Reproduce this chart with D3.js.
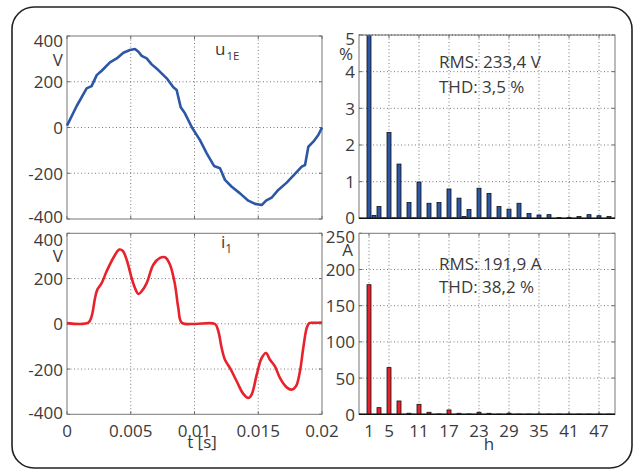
<!DOCTYPE html>
<html><head><meta charset="utf-8">
<script src="https://cdn.jsdelivr.net/npm/d3@7"></script>
<style>
body{margin:0;background:#fff;}
text{font-family:"Open Sans",sans-serif;font-size:17px;fill:#3a3a3a;font-weight:400;}
</style></head>
<body><svg id="c" width="636" height="470"></svg>
<script>
// ---------- DATA ----------
const tVolt = [0,0.00076,0.00154,0.00193,0.00233,0.00272,0.00337,0.0039,0.00442,0.00494,0.00533,0.0056,0.00586,0.00625,0.00664,0.00716,0.00782,0.00834,0.0086,0.00892,0.00925,0.0098,0.01043,0.01096,0.01153,0.012,0.01239,0.01292,0.01357,0.01422,0.01475,0.01527,0.01561,0.01605,0.01657,0.01723,0.01788,0.01841,0.01867,0.01893,0.01932,0.01971,0.02];
const uVolt = [8,94,171,181,229,248,285,302,327,339,343,331,313,302,276,251,215,176,164,88,62,0,-55,-113,-168,-178,-229,-259,-288,-320,-334,-339,-320,-307,-273,-241,-203,-171,-164,-84,-62,-33,0];
const tCur = [0,0.00167,0.00193,0.0022,0.00238,0.00272,0.00311,0.00363,0.0041,0.00437,0.00468,0.00507,0.00533,0.0056,0.00586,0.00625,0.00677,0.00729,0.00769,0.00808,0.00847,0.00873,0.009,0.01,0.01161,0.01187,0.01213,0.01239,0.01278,0.01331,0.01383,0.01422,0.01448,0.01488,0.01527,0.01561,0.01592,0.01631,0.01671,0.01723,0.01762,0.01796,0.01827,0.01853,0.0188,0.019,0.01935,0.02];
const iCur = [3,5,33,114,151,180,232,291,328,323,283,202,158,132,144,180,261,291,294,261,173,70,5,-1,-1,-33,-107,-159,-195,-254,-310,-328,-313,-225,-151,-129,-159,-188,-240,-281,-291,-276,-210,-107,-19,3,4,6];
const harmonics = d3.range(1, 51);
const voltPct = [100,0.08,0.32,0.01,2.34,0.01,1.48,0.01,0.43,0.01,0.99,0.01,0.41,0.01,0.43,0.01,0.80,0.01,0.55,0.05,0.24,0.01,0.82,0.01,0.68,0.01,0.32,0.01,0.25,0.01,0.41,0.01,0.13,0,0.09,0,0.10,0,0.02,0,0.02,0,0.05,0,0.10,0,0.07,0,0.05,0];
const curAmp = [179,0,9.2,0,64.5,0,18.4,0,1.5,0,13.8,0,2.8,0,0.5,0,6,0,1.4,0,0.5,0,2.8,0,1.4,0,0.3,0,1.5,0,0.3,0,0.3,0,0.3,0,0.3,0,0.3,0,0.3,0,0.3,0,0.3,0,0.3,0,0.3,0];
const waveYTicks = [-400,-200,0,200,400];
const timeTicks = [0,0.005,0.01,0.015,0.02];
const timeTickLabels = ["0","0.005","0.01","0.015","0.02"];
const hTicks = [1,5,11,17,23,29,35,41,47];
const pctTicks = [0,1,2,3,4,5];
const ampTicks = [0,50,100,150,200,250];

const svg = d3.select("#c");
const BLUE = "#2c56a6", RED = "#e8222c";

// frame
svg.append("rect").attr("x",12).attr("y",7).attr("width",620).attr("height",461)
  .attr("rx",22).attr("fill","none").attr("stroke","#222").attr("stroke-width",1.6);

function panel(o){
  const g = svg.append("g");
  const x = o.x, y = o.y;
  const [x0,x1] = x.range(), [y1,y0] = y.range();
  o.xt.forEach(v=>{ const px=x(v); if(px>x0+1&&px<x1-1) g.append("line").attr("x1",px).attr("x2",px).attr("y1",y0).attr("y2",y1)
      .attr("stroke","#555").attr("stroke-width",0.8).attr("stroke-dasharray","1,2.5");});
  o.yt.forEach(v=>{ const py=y(v); if(py>y0+1&&py<y1-1) g.append("line").attr("x1",x0).attr("x2",x1).attr("y1",py).attr("y2",py)
      .attr("stroke","#555").attr("stroke-width",0.8).attr("stroke-dasharray","1,2.5");});
  if(o.topGrid) g.append("line").attr("x1",x0).attr("x2",x1).attr("y1",y0).attr("y2",y0)
      .attr("stroke","#222").attr("stroke-width",1).attr("stroke-dasharray","1.2,2");
  const tl=3;
  o.xt.forEach(v=>{const px=x(v);
    g.append("line").attr("x1",px).attr("x2",px).attr("y1",y1).attr("y2",y1-tl).attr("stroke","#666");
    g.append("line").attr("x1",px).attr("x2",px).attr("y1",y0).attr("y2",y0+tl).attr("stroke","#666");});
  o.yt.forEach(v=>{const py=y(v);
    g.append("line").attr("x1",x0).attr("x2",x0+tl).attr("y1",py).attr("y2",py).attr("stroke","#666");
    g.append("line").attr("x1",x1).attr("x2",x1-tl).attr("y1",py).attr("y2",py).attr("stroke","#666");});
  o.yt.forEach((v,i)=>{
    let py=y(v); if(i===o.yt.length-1) py+=o.topShift; if(i===0) py+=o.botShift;
    g.append("text").attr("x",o.ylx).attr("y",py).attr("text-anchor","end").attr("dominant-baseline","central").text(v);
  });
  if(o.xlabels) o.xt.forEach((v,i)=>{
    g.append("text").attr("x",x(v)).attr("y",430).attr("text-anchor","middle").attr("dominant-baseline","central").text(o.xlabels[i]);
  });
  return g;
}
function boxOn(g,x,y){
  const [x0,x1]=x.range(),[y1,y0]=y.range();
  g.append("rect").attr("x",x0).attr("y",y0).attr("width",x1-x0).attr("height",y1-y0)
    .attr("fill","none").attr("stroke","#777").attr("stroke-width",1);
}

// ---- top-left: voltage waveform ----
const xT = d3.scaleLinear().domain([0,0.02]).range([67,322]);
const yU = d3.scaleLinear().domain([-400,400]).range([219,36]);
const gU = panel({x:xT,y:yU,xt:timeTicks,yt:waveYTicks,ylx:63,topShift:4,botShift:-3});
boxOn(gU,xT,yU);
gU.append("path").datum(tVolt.map((t,i)=>[t,uVolt[i]]))
  .attr("d",d3.line().x(d=>xT(d[0])).y(d=>yU(d[1])))
  .attr("fill","none").attr("stroke",BLUE).attr("stroke-width",2.6).attr("stroke-linejoin","round");
gU.append("text").attr("x",63).attr("y",59).attr("text-anchor","end").attr("dominant-baseline","central").text("V");
gU.append("text").attr("x",215).attr("y",55).text("u");
gU.append("text").attr("x",226.5).attr("y",59.5).style("font-size","11.5px").text("1E");

// ---- bottom-left: current waveform ----
const yI = d3.scaleLinear().domain([-400,400]).range([414.3,233.3]);
const gI = panel({x:xT,y:yI,xt:timeTicks,yt:waveYTicks,ylx:63,topShift:6,botShift:-2,xlabels:timeTickLabels});
boxOn(gI,xT,yI);
gI.append("path").datum(tCur.map((t,i)=>[t,iCur[i]]))
  .attr("d",d3.line().x(d=>xT(d[0])).y(d=>yI(d[1])).curve(d3.curveCatmullRom.alpha(0.5)))
  .attr("fill","none").attr("stroke",RED).attr("stroke-width",2.6).attr("stroke-linejoin","round");
gI.append("text").attr("x",63).attr("y",255).attr("text-anchor","end").attr("dominant-baseline","central").text("V");
gI.append("text").attr("x",221).attr("y",248.3).text("i");
gI.append("text").attr("x",225.3).attr("y",253.3).style("font-size","12px").text("1");
gI.append("text").attr("x",202).attr("y",448).attr("text-anchor","middle").text("t [s]");

// ---- right: harmonic spectra ----
const xH = d3.scaleLinear().domain([-1,50.2]).range([359,615]);
const bw = 0.8*(xH(1)-xH(0));

const yP = d3.scaleLinear().domain([0,5]).range([218.3,35]);
const gP = panel({x:xH,y:yP,xt:hTicks,yt:pctTicks,ylx:355,topShift:3,botShift:-1,topGrid:true});
svg.append("clipPath").attr("id","clipP").append("rect").attr("x",359).attr("y",35).attr("width",256).attr("height",184);
gP.append("g").attr("clip-path","url(#clipP)").selectAll("rect").data(harmonics).join("rect")
  .attr("x",h=>xH(h)-bw/2).attr("width",bw)
  .attr("y",(h,i)=>yP(Math.min(voltPct[i],6))).attr("height",(h,i)=>yP(0)-yP(Math.min(voltPct[i],6)))
  .attr("fill",BLUE).attr("stroke","#111").attr("stroke-width",0.8);
boxOn(gP,xH,yP);
gP.append("line").attr("x1",359).attr("x2",615).attr("y1",yP(0)).attr("y2",yP(0)).attr("stroke","#111").attr("stroke-width",1.4);
gP.append("text").attr("x",353).attr("y",53.5).attr("text-anchor","end").attr("dominant-baseline","central").text("%");
gP.append("text").attr("x",439).attr("y",68.3).text("RMS: 233,4 V");
gP.append("text").attr("x",439).attr("y",92.7).text("THD: 3,5 %");

const yA = d3.scaleLinear().domain([0,250]).range([414.3,233.3]);
const gA = panel({x:xH,y:yA,xt:hTicks,yt:ampTicks,ylx:355,topShift:3,botShift:0,xlabels:hTicks});
gA.append("g").selectAll("rect").data(harmonics).join("rect")
  .attr("x",h=>xH(h)-bw/2).attr("width",bw)
  .attr("y",(h,i)=>yA(curAmp[i])).attr("height",(h,i)=>yA(0)-yA(curAmp[i]))
  .attr("fill",RED).attr("stroke","#111").attr("stroke-width",0.8);
boxOn(gA,xH,yA);
gA.append("line").attr("x1",359).attr("x2",615).attr("y1",yA(0)).attr("y2",yA(0)).attr("stroke","#111").attr("stroke-width",1.4);
gA.append("text").attr("x",353).attr("y",249).attr("text-anchor","end").attr("dominant-baseline","central").text("A");
gA.append("text").attr("x",439).attr("y",270).text("RMS: 191,9 A");
gA.append("text").attr("x",439).attr("y",292.7).text("THD: 38,2 %");
gA.append("text").attr("x",489).attr("y",450).attr("text-anchor","middle").text("h");
</script></body></html>
